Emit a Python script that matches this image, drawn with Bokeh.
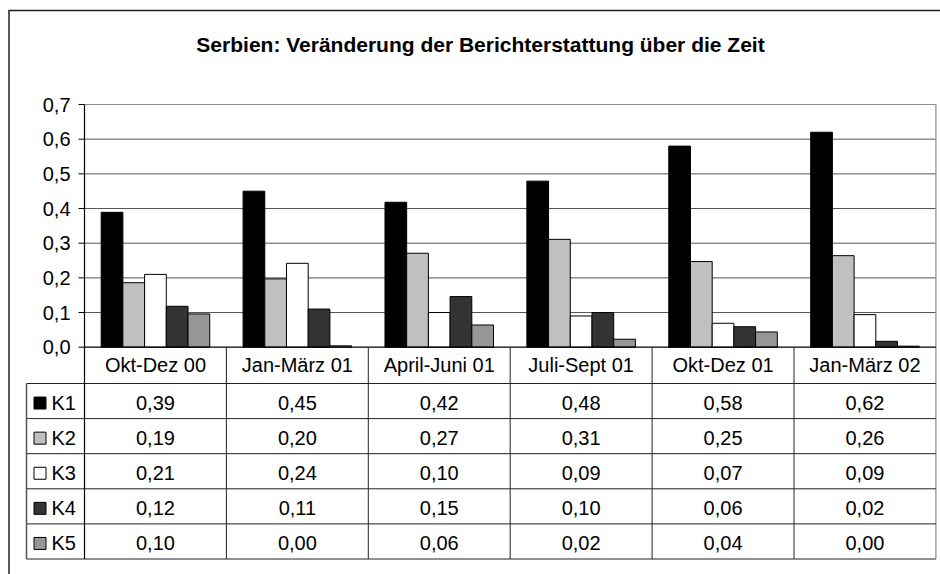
from bokeh.plotting import figure
from bokeh.models import ColumnDataSource, Range1d
from bokeh.core.properties import value
from bokeh.embed import file_html
from bokeh.resources import INLINE

# ---------------- data ----------------
title_text = "Serbien: Veränderung der Berichterstattung über die Zeit"
categories = ["Okt-Dez 00", "Jan-März 01", "April-Juni 01", "Juli-Sept 01", "Okt-Dez 01", "Jan-März 02"]
series_names = ["K1", "K2", "K3", "K4", "K5"]
k1 = [0.389, 0.450, 0.418, 0.479, 0.580, 0.620]
k2 = [0.186, 0.197, 0.271, 0.311, 0.247, 0.264]
k3 = [0.210, 0.242, 0.100, 0.090, 0.069, 0.094]
k4 = [0.118, 0.110, 0.146, 0.100, 0.059, 0.017]
k5 = [0.096, 0.004, 0.064, 0.023, 0.044, 0.003]
y_ticks = [0.0, 0.1, 0.2, 0.3, 0.4, 0.5, 0.6, 0.7]

# ---------------- styles / layout ----------------
series_values = [k1, k2, k3, k4, k5]
colors = ["#000000", "#c0c0c0", "#ffffff", "#333333", "#969696"]
FONT = value("Liberation Sans")
FS = "20px"
W, H = 940, 574
PX_X = 141.9          # pixels per category
PX_Y = 346.7          # pixels per 1.0 of value
OX, OY = 84.0, 346.7  # canvas position of (0, 0)

def dx(px):  # canvas px -> data x
    return (px - OX) / PX_X

def dy(py):  # canvas px (from top) -> data y
    return (OY - py) / PX_Y

n = len(categories)
ymax = y_ticks[-1]
bw = 0.153
header_bottom = dy(383.0)
row_h = 35.1 / PX_Y
row_lines = [header_bottom - k * row_h for k in range(len(series_names) + 1)]
table_bottom = row_lines[-1]
table_left = dx(26.0)

p = figure(width=W, height=H, output_backend="svg", toolbar_location=None,
           x_range=Range1d(dx(0), dx(W)), y_range=Range1d(dy(H), dy(0)),
           x_axis_location=None, y_axis_location=None, min_border=0,
           outline_line_color=None, background_fill_color="white",
           border_fill_color="white")
p.grid.visible = False

# gridlines
grid_t = [t for t in y_ticks[1:-1]]
p.segment(x0=[0] * len(grid_t), x1=[n] * len(grid_t), y0=grid_t, y1=grid_t,
          line_color="#555555", line_width=1)
# plot area border (top and right), right border continues through table
p.segment(x0=[0, n], x1=[n, n], y0=[ymax, ymax], y1=[ymax, table_bottom],
          line_color="#8c8c8c", line_width=1.2)

# bars
for k, (name, vals) in enumerate(zip(series_names, series_values)):
    xs = [i + 0.5 + (k - 2) * bw for i in range(n)]
    src = ColumnDataSource(dict(x=xs, top=vals))
    p.vbar(x="x", top="top", width=bw, bottom=0, source=src,
           fill_color=colors[k], line_color="#000000", line_width=1)

# axes lines
p.segment(x0=[0, 0], x1=[0, n], y0=[ymax, 0], y1=[table_bottom, 0],
          line_color="#000000", line_width=1.2)
# tick marks
p.segment(x0=[dx(OX - 6)] * len(y_ticks), x1=[0] * len(y_ticks), y0=y_ticks, y1=y_ticks,
          line_color="#000000", line_width=1)
# tick labels
p.text(x=[dx(OX - 14)] * len(y_ticks), y=y_ticks,
       text=[f"{t:.1f}".replace(".", ",") for t in y_ticks],
       text_font=FONT, text_font_size=FS, text_color="#000000",
       text_align="right", text_baseline="middle")

# table lines
p.segment(x0=[table_left] * len(row_lines), x1=[n] * len(row_lines),
          y0=row_lines, y1=row_lines, line_color="#222222", line_width=1)
p.segment(x0=list(range(1, n)), x1=list(range(1, n)),
          y0=[0] * (n - 1), y1=[table_bottom] * (n - 1),
          line_color="#222222", line_width=1)
p.segment(x0=[table_left], x1=[table_left], y0=[header_bottom], y1=[table_bottom],
          line_color="#555555", line_width=1.5)

# category labels
p.text(x=[i + 0.5 for i in range(n)], y=[header_bottom / 2] * n, text=categories,
       text_font=FONT, text_font_size=FS, text_color="#000000",
       text_align="center", text_baseline="middle")

# rows
shift = 2.0 / PX_Y
for k, (name, vals) in enumerate(zip(series_names, series_values)):
    yc = (row_lines[k] + row_lines[k + 1]) / 2 - shift
    p.scatter(x=[dx(39.5)], y=[yc], marker="square", size=12,
              fill_color=colors[k], line_color="#000000", line_width=1)
    p.text(x=[dx(51.0)], y=[yc], text=[name], text_font=FONT, text_font_size=FS,
           text_color="#000000", text_align="left", text_baseline="middle")
    p.text(x=[i + 0.5 for i in range(n)], y=[yc] * n,
           text=[f"{v:.2f}".replace(".", ",") for v in vals],
           text_font=FONT, text_font_size=FS, text_color="#000000",
           text_align="center", text_baseline="middle")

# outer chart frame (left and top)
p.segment(x0=[dx(8.5), dx(8.0)], x1=[dx(8.5), dx(W)], y0=[dy(10.0), dy(10.0)], y1=[dy(H), dy(10.0)],
          line_color="#222222", line_width=1.5)

# title
p.text(x=[dx(480.0)], y=[dy(43.5)], text=[title_text], text_font=FONT,
       text_font_size="21px", text_font_style="bold", text_color="#000000",
       text_align="center", text_baseline="alphabetic")

open("out.html", "w").write(file_html(p, INLINE))
